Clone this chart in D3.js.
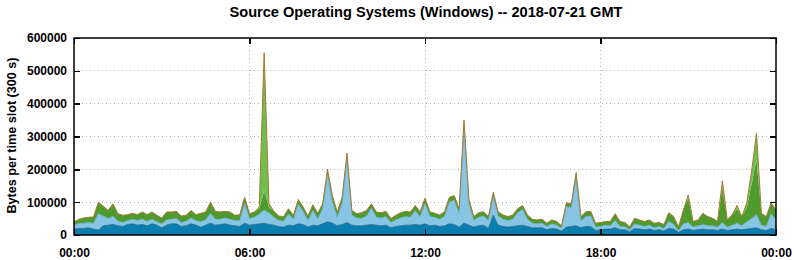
<!doctype html>
<html lang='en'>
<head>
<meta charset='UTF-8'>
<title>Source Operating Systems (Windows)</title>
<style>
  body,html{
    margin: 0;
    padding: 0;
    background: #fff;
  }
  svg{
    display: block;
    font-family: 'Liberation Sans', Arial, sans-serif;
    font-weight: bold;
  }
  .grid line{
    stroke: #b0b0b0;
    stroke-dasharray: 1,3;
    shape-rendering: crispEdges;
  }
  .axis path{ display: none; }
  .axis line{
    stroke: #000;
    stroke-width: 1.5;
    shape-rendering: crispEdges;
  }
  .axis text{
    fill: #000;
    font-size: 12px;
  }
</style>
</head>
<body>
<script src='https://cdn.jsdelivr.net/npm/d3@7/dist/d3.min.js'></script>
<script>
  const title = 'Source Operating Systems (Windows) -- 2018-07-21 GMT'
  const yTitle = 'Bytes per time slot (300 s)'
  const day = '2018-07-21'
  const slotMinutes = 10   // one value read every 10 minutes
  const unit = 1000        // values below are in thousands of bytes

  const yTicks = [0, 100000, 200000, 300000, 400000, 500000, 600000]
  const xTickHours = [0, 6, 12, 18, 24]

  // bottom layer
  const darkBlue = [
    18,20,20,22,18,15,28,30,32,28,26,32,34,30,32,28,34,30,22,30,34,34,26,28,34,30,24,30,36,
    30,32,34,30,28,26,36,30,32,34,36,32,30,26,24,30,28,34,32,24,30,28,34,40,36,28,32,38,30,28,
    28,30,32,30,28,30,22,26,28,30,30,32,30,34,28,30,26,28,34,32,24,36,30,24,28,30,20,60,30,26,
    24,26,28,30,26,22,22,22,16,20,18,12,24,26,28,22,26,26,14,16,18,
    18,22,16,16,10,20,18,16,18,14,16,12,20,18,8,16,18,14,16,18,16,16,14,18,14,16,18,16,18,20,
    22,16,14,20,16
  ]
  const lightBlue = [
    12,15,16,16,18,50,30,20,25,15,12,12,14,14,16,14,14,10,12,16,14,16,12,14,18,14,16,16,30,
    18,16,18,18,16,18,60,20,22,30,40,35,24,18,18,34,20,60,40,20,45,22,45,145,65,26,65,195,30,24,
    22,28,50,24,24,26,16,20,24,26,24,42,26,62,28,24,22,28,66,74,40,295,65,20,26,28,24,55,28,22,
    20,22,40,48,22,14,12,14,10,14,12,8,62,58,145,20,30,32,10,10,12,
    10,22,10,10,6,14,12,10,12,8,10,8,22,14,5,18,20,10,12,14,12,12,10,20,10,14,18,12,22,30,
    40,14,12,45,30
  ]
  const darkGreen = [
    10,13,16,16,19,35,30,25,38,22,22,18,18,18,22,20,22,20,18,24,22,22,20,18,23,18,26,24,34,
    24,22,20,22,16,18,19,15,16,16,59,18,18,14,14,16,12,14,13,14,17,16,16,15,19,16,18,17,15,13,
    18,17,13,16,16,16,12,14,16,16,16,16,14,16,15,12,13,15,15,14,16,19,15,12,14,13,12,15,13,13,
    12,13,12,12,13,12,12,12,10,12,11,8,12,11,17,14,15,14,12,12,11,
    13,21,15,12,9,17,16,15,16,14,12,12,26,24,12,42,74,17,18,34,28,23,17,107,22,31,44,28,43,105,
    168,36,30,33,30
  ]
  // top layer, only visible in the spikes
  const lightGreen = [
    0,0,0,0,0,0,0,0,0,0,0,0,0,0,0,0,0,0,0,0,0,0,0,0,0,0,0,0,0,
    0,0,0,0,0,0,0,0,0,5,420,10,0,0,0,0,0,0,0,0,0,0,0,0,0,0,0,0,0,0,
    0,0,0,0,0,0,0,0,0,0,0,0,0,0,0,0,0,0,0,0,0,0,0,0,0,0,0,0,0,0,
    0,0,0,0,0,0,0,0,0,0,0,0,0,0,0,0,0,0,0,0,0,
    0,0,0,0,0,0,0,0,0,0,0,0,0,0,0,0,10,0,0,0,0,0,0,20,0,0,10,0,15,40,
    80,0,0,0,0
  ]

  const seriesKeys = ['darkBlue', 'lightBlue', 'darkGreen', 'lightGreen']
  const fills = {darkBlue: '#0a7eae', lightBlue: '#88c4e4', darkGreen: '#4e9a2c', lightGreen: '#6fbf50'}
  const edges = {darkBlue: '#16628a', lightBlue: '#6aaccf', darkGreen: '#3f8526', lightGreen: '#5aa83c'}

  const w = 794
  const h = 260
  const margin = {top: 38, right: 18, bottom: 25, left: 74}
  const width = w - margin.left - margin.right
  const height = h - margin.top - margin.bottom

  const t0 = new Date(day + 'T00:00:00Z')
  const t1 = d3.utcDay.offset(t0, 1)

  const rows = darkBlue.map((v, i) => ({
    t: d3.utcMinute.offset(t0, i * slotMinutes),
    darkBlue: v * unit,
    lightBlue: lightBlue[i] * unit,
    darkGreen: darkGreen[i] * unit,
    lightGreen: lightGreen[i] * unit
  }))

  const x = d3.scaleUtc().domain([t0, t1]).range([0, width])
  const y = d3.scaleLinear().domain([0, 600000]).range([height, 0])
  const xTickDates = xTickHours.map(hh => d3.utcHour.offset(t0, hh))

  const svg = d3.select('body').append('svg')
    .attr('width', w)
    .attr('height', h)

  svg.append('text')
    .attr('x', margin.left + width / 2 + 1)
    .attr('y', 17)
    .attr('text-anchor', 'middle')
    .attr('font-size', '14px')
    .attr('textLength', 393)
    .attr('lengthAdjust', 'spacingAndGlyphs')
    .text(title)

  svg.append('text')
    .attr('transform', `translate(16, ${margin.top + height / 2 - 1}) rotate(-90)`)
    .attr('text-anchor', 'middle')
    .attr('font-size', '12px')
    .attr('textLength', 156)
    .attr('lengthAdjust', 'spacingAndGlyphs')
    .text(yTitle)

  const chart = svg.append('g')
    .attr('transform', `translate(${margin.left}, ${margin.top})`)

  // dotted grid, behind the areas
  const grid = chart.append('g').attr('class', 'grid')
  grid.selectAll('.gy')
    .data(yTicks.slice(1, -1))
    .enter().append('line')
    .attr('x1', 0).attr('x2', width)
    .attr('y1', d => y(d)).attr('y2', d => y(d))
  grid.selectAll('.gx')
    .data(xTickDates.slice(1, -1))
    .enter().append('line')
    .attr('y1', 0).attr('y2', height)
    .attr('x1', d => x(d)).attr('x2', d => x(d))

  const stack = d3.stack().keys(seriesKeys)
  const layers = stack(rows)

  const area = d3.area()
    .x(d => x(d.data.t))
    .y0(d => y(d[0]))
    .y1(d => y(d[1]))

  const topLine = d3.line()
    .x(d => x(d.data.t))
    .y(d => y(d[1]))

  chart.selectAll('.layer')
    .data(layers)
    .enter().append('path')
    .attr('class', 'layer')
    .attr('d', area)
    .attr('fill', d => fills[d.key])

  chart.selectAll('.edge')
    .data(layers.slice(0, 2))
    .enter().append('path')
    .attr('class', 'edge')
    .attr('d', topLine)
    .attr('fill', 'none')
    .attr('stroke', d => edges[d.key])
    .attr('stroke-width', 0.8)

  // outline of the whole stack
  chart.append('path')
    .datum(layers[layers.length - 1])
    .attr('d', topLine)
    .attr('fill', 'none')
    .attr('stroke', '#a57a33')
    .attr('stroke-width', 1)

  // labels
  chart.append('g')
    .attr('class', 'axis')
    .call(d3.axisLeft(y).tickValues(yTicks).tickSize(0).tickPadding(7).tickFormat(d3.format('d')))
  chart.append('g')
    .attr('class', 'axis')
    .attr('transform', `translate(0, ${height})`)
    .call(d3.axisBottom(x).tickValues(xTickDates).tickSize(0).tickPadding(13).tickFormat(d3.utcFormat('%H:%M')))

  // inward ticks on all four sides
  chart.append('g').attr('class', 'axis')
    .call(d3.axisRight(y).tickValues(yTicks).tickSize(6).tickFormat(''))
  chart.append('g').attr('class', 'axis')
    .attr('transform', `translate(${width}, 0)`)
    .call(d3.axisLeft(y).tickValues(yTicks).tickSize(6).tickFormat(''))
  chart.append('g').attr('class', 'axis')
    .call(d3.axisBottom(x).tickValues(xTickDates).tickSize(6).tickFormat(''))
  chart.append('g').attr('class', 'axis')
    .attr('transform', `translate(0, ${height})`)
    .call(d3.axisTop(x).tickValues(xTickDates).tickSize(6).tickFormat(''))

  chart.append('rect')
    .attr('width', width)
    .attr('height', height)
    .attr('fill', 'none')
    .attr('stroke', '#000')
    .attr('stroke-width', 1.5)
</script>
</body>
</html>
